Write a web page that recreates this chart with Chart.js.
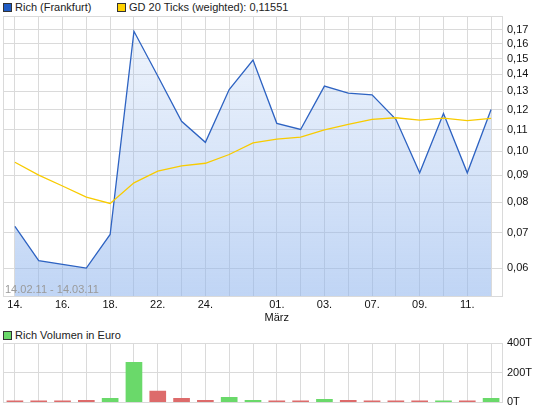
<!DOCTYPE html>
<html>
<head>
<meta charset="utf-8">
<script src="https://cdn.jsdelivr.net/npm/chart.js@4.4.1/dist/chart.umd.min.js"></script>
<style>
    body { margin: 0; background: #fff; font-family: "Liberation Sans", Arial, sans-serif; font-size: 11px; color: #222; }
    #wrap { position: relative; width: 545px; height: 413px; overflow: hidden; }
    .leg { position: absolute; white-space: nowrap; line-height: 13px; }
    .sq { position: absolute; width: 7px; height: 7px; border: 1px solid #333; }
    canvas { position: absolute; left: 0; }
</style>
</head>
<body>
<div id="wrap">
    <span class="sq" style="left:3px;top:3px;background:#1f5bc4"></span>
    <div class="leg" style="left:15px;top:1px">Rich (Frankfurt)</div>
    <span class="sq" style="left:117px;top:3px;background:#ffd200"></span>
    <div class="leg" style="left:129px;top:1px">GD 20 Ticks (weighted): 0,11551</div>

    <canvas id="priceChart" style="top:0" width="545" height="325"></canvas>

    <span class="sq" style="left:3px;top:331px;background:#6ad96a"></span>
    <div class="leg" style="left:15px;top:329px">Rich Volumen in Euro</div>

    <canvas id="volChart" style="top:325px" width="545" height="88"></canvas>
</div>

<script>
// trading days 14.02.11 - 14.03.11
const dates = ["14.02.", "15.02.", "16.02.", "17.02.", "18.02.", "21.02.", "22.02.", "23.02.", "24.02.", "25.02.", "28.02.",
               "01.03.", "02.03.", "03.03.", "04.03.", "07.03.", "08.03.", "09.03.", "10.03.", "11.03.", "14.03."];
const xTickLabels = ["14.", "", "16.", "", "18.", "", "22.", "", "24.", "", "",
                     ["01.", "März"], "", "03.", "", "07.", "", "09.", "", "11.", ""];

// Rich (Frankfurt) price
const richPrice = [0.072, 0.062, 0.061, 0.060, 0.0695, 0.169, 0.139, 0.114, 0.104, 0.131, 0.149,
                   0.113, 0.110, 0.133, 0.129, 0.128, 0.115, 0.091, 0.118, 0.091, 0.120];
// GD 20 Ticks (weighted)
const gd20 = [0.0953, 0.0901, 0.0859, 0.0818, 0.0796, 0.0871, 0.0917, 0.0938, 0.0949, 0.0986, 0.1037,
              0.1055, 0.1064, 0.1098, 0.1125, 0.1150, 0.1158, 0.1146, 0.1156, 0.1143, 0.1155];
const priceTicks = [0.06, 0.07, 0.08, 0.09, 0.10, 0.11, 0.12, 0.13, 0.14, 0.15, 0.16, 0.17];

// volume in thousand euro, and whether the day closed up (green) or down (red)
const volume = [9, 9, 3, 16, 30, 272, 78, 30, 16, 37, 16, 9, 9, 23, 16, 3, 9, 9, 9, 9, 30];
const volumeUp = [false, false, false, false, true, true, false, false, false, true, true,
                  false, false, true, false, false, false, false, true, false, true];
const volumeTicks = [0, 200, 400];

const gridColor = "#dadada";
const font = { family: "'Liberation Sans', Arial, sans-serif", size: 11 };

// frame around the plot (under the marks) + date range text (on top)
const framePlugin = {
    id: "frame",
    beforeDatasetsDraw(chart) {
        const { ctx, chartArea: a } = chart;
        ctx.save();
        ctx.strokeStyle = gridColor;
        ctx.lineWidth = 1;
        ctx.strokeRect(Math.round(a.left) + 0.5, Math.round(a.top) + 0.5,
                       Math.round(a.right - a.left) - 1, Math.round(a.bottom - a.top));
        ctx.restore();
    },
    afterDraw(chart, args, opts) {
        if (!opts.rangeText) return;
        const { ctx, chartArea: a } = chart;
        ctx.save();
        ctx.fillStyle = "#9a9a9a";
        ctx.font = "11px 'Liberation Sans', Arial, sans-serif";
        ctx.textBaseline = "alphabetic";
        ctx.fillText(opts.rangeText, a.left + 2, a.bottom - 3);
        ctx.restore();
    }
};

const priceCtx = document.getElementById("priceChart").getContext("2d");
const fillGrad = priceCtx.createLinearGradient(0, 16, 0, 296);
fillGrad.addColorStop(0, "rgba(144,181,237,0.12)");
fillGrad.addColorStop(1, "rgba(144,181,237,0.57)");

new Chart(priceCtx, {
    type: "line",
    data: {
        labels: dates,
        datasets: [{
            label: "GD 20 Ticks (weighted)",
            data: gd20,
            borderColor: "#f8cb00",
            borderWidth: 1.3,
            pointRadius: 0,
            tension: 0,
            fill: false,
            order: 1
        }, {
            label: "Rich (Frankfurt)",
            data: richPrice,
            borderColor: "#2e63c2",
            borderWidth: 1.3,
            backgroundColor: fillGrad,
            pointRadius: 0,
            tension: 0,
            fill: "start",
            order: 2
        }]
    },
    options: {
        responsive: false,
        animation: false,
        layout: { padding: { left: 3, top: 16, right: 0, bottom: 0 } },
        plugins: {
            legend: { display: false },
            tooltip: { enabled: false },
            frame: { rangeText: "14.02.11 - 14.03.11" }
        },
        scales: {
            x: {
                offset: true,
                grid: { color: gridColor, drawTicks: false, offset: false },
                border: { display: false },
                ticks: {
                    autoSkip: false, maxRotation: 0, padding: 2, color: "#111", font: font,
                    callback: (v, i) => xTickLabels[i]
                },
                afterFit: s => { s.height = 29; }
            },
            y: {
                type: "logarithmic",
                position: "right",
                min: 0.0531,
                max: 0.1807,
                grid: { color: gridColor, drawTicks: false },
                border: { display: false },
                ticks: {
                    padding: 4, color: "#111", font: font,
                    callback: v => v.toFixed(2).replace(".", ",")
                },
                afterBuildTicks: s => { s.ticks = priceTicks.map(v => ({ value: v })); },
                afterFit: s => { s.width = 42; }
            }
        }
    },
    plugins: [framePlugin]
});

new Chart(document.getElementById("volChart").getContext("2d"), {
    type: "bar",
    data: {
        labels: dates,
        datasets: [{
            label: "Rich Volumen in Euro",
            data: volume,
            backgroundColor: volumeUp.map(up => up ? "#6ad96a" : "#dd6b6b"),
            borderWidth: 0,
            barPercentage: 0.7,
            categoryPercentage: 1,
            minBarLength: 2
        }]
    },
    options: {
        responsive: false,
        animation: false,
        layout: { padding: { left: 3, top: 18, right: 0, bottom: 9 } },
        plugins: {
            legend: { display: false },
            tooltip: { enabled: false },
            frame: {}
        },
        scales: {
            x: {
                offset: true,
                grid: { color: gridColor, drawTicks: false, offset: false },
                border: { display: false },
                ticks: { display: false },
                afterFit: s => { s.height = 0; }
            },
            y: {
                position: "right",
                min: 0,
                max: 400,
                grid: { color: gridColor, drawTicks: false },
                border: { display: false },
                ticks: {
                    padding: 4, color: "#111", font: font,
                    callback: v => v + "T"
                },
                afterBuildTicks: s => { s.ticks = volumeTicks.map(v => ({ value: v })); },
                afterFit: s => { s.width = 42; }
            }
        }
    },
    plugins: [framePlugin]
});
</script>
</body>
</html>
